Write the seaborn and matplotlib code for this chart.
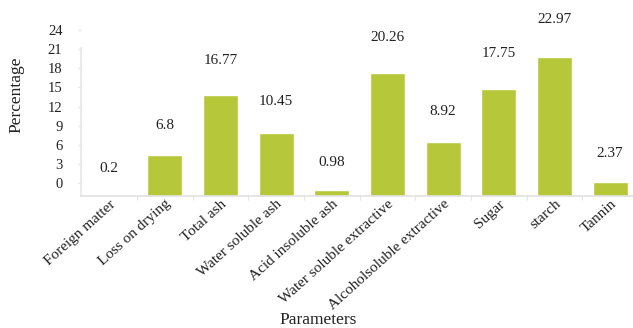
import pandas as pd
import matplotlib
matplotlib.use("Agg")
import matplotlib.pyplot as plt
import matplotlib.transforms as mtransforms
import seaborn as sns

# -----------------------------
# Data
# -----------------------------
parameters = ["Foreign matter", "Loss on drying", "Total ash", "Water soluble ash",
              "Acid insoluble ash", "Water soluble extractive", "Alcoholsoluble extractive",
              "Sugar", "starch", "Tannin"]
percentages = [0.2, 6.8, 16.77, 10.45, 0.98, 20.26, 8.92, 17.75, 22.97, 2.37]
ytick_labels = ["0", "3", "6", "9", "12", "15", "18", "21", "24"]

df = pd.DataFrame({"Parameters": parameters, "Percentage": percentages})

sns.set_theme(style="white")
plt.rcParams["font.family"] = ["Liberation Serif", "DejaVu Serif"]

fig = plt.figure(figsize=(6.33, 3.28), dpi=100)
ax = fig.add_axes([0.1283, 0.4024, 0.8795, 0.5534])

sns.barplot(data=df, x="Parameters", y="Percentage", color="#b6c83a",
            width=0.63, saturation=1, ax=ax)

ax.set_xlim(-0.5, 9.5)
ax.set_ylim(0, 30)

# value labels above the bars
for i, v in enumerate(percentages):
    ax.text(i, 1.075 * v + 4.41, str(v), ha="center", va="center",
            fontsize=11, color="#222222")

# y tick labels sit a little above the bar baseline in the original
ytick_pos = [2.1 + 3.167 * k for k in range(len(ytick_labels))]
ax.set_yticks(ytick_pos)
ax.set_yticklabels(ytick_labels, fontsize=10.5, color="#222222")
ax.tick_params(axis="y", length=2, width=0.8, color="#e2e2e2", pad=11.5, left=True)

# x ticks: rotated labels, small marks between categories
ax.set_xticks(range(len(parameters)))
ax.set_xticklabels(parameters, rotation=42, ha="right", va="top",
                   rotation_mode="anchor", fontsize=11, color="#222222")
offset = mtransforms.ScaledTranslation(13 / 100, 8 / 100, fig.dpi_scale_trans)
for lab in ax.get_xticklabels():
    lab.set_transform(lab.get_transform() + offset)
ax.tick_params(axis="x", length=0, pad=1)
ax.set_xticks([k + 0.5 for k in range(len(parameters) - 1)], minor=True)
ax.tick_params(axis="x", which="minor", length=3, width=0.8, color="#e2e2e2", bottom=True)

for side in ["top", "right"]:
    ax.spines[side].set_visible(False)
ax.spines["left"].set_color("#e6e6e6")
ax.spines["left"].set_bounds(0, 24.5)
ax.spines["bottom"].set_color("#e2e2e2")
ax.spines["left"].set_linewidth(1.2)
ax.spines["bottom"].set_linewidth(1.2)

ax.set_xlabel("Parameters", fontsize=12.5, color="#222222", va="center")
ax.xaxis.set_label_coords(0.426, -0.683)
ax.set_ylabel("Percentage", fontsize=12.5, color="#222222", va="center")
ax.yaxis.set_label_coords(-0.117, 0.556)

fig.savefig("out.png", dpi=100)
